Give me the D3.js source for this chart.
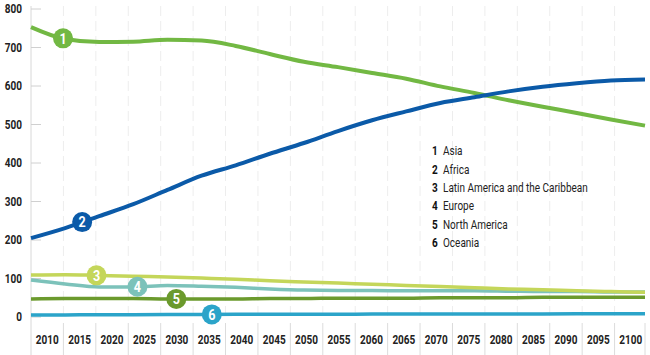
<!DOCTYPE html>
<html><head><meta charset="utf-8">
<script src="https://cdn.jsdelivr.net/npm/d3@7/dist/d3.min.js"></script>
<style>
body{margin:0;background:#fff}
svg{display:block}
text{font-family:"Roboto","Liberation Sans",sans-serif}
</style>
</head><body><svg id="c" width="650" height="355"></svg>
<script>
const years = [2010,2015,2020,2025,2030,2035,2040,2045,2050,2055,2060,2065,2070,2075,2080,2085,2090,2095,2100];
const yearLabels = ["2010","2015","2020","2025","2030","2035","2040","2045","2050","2055","2060","2065","2070","2075","2080","2085","2090","2095","2100"];
const yTicks = [0,100,200,300,400,500,600,700,800];
const seriesNames = ["Asia","Africa","Latin America and the Caribbean","Europe","North America","Oceania"];
const seriesColors = ["#72b843","#0b5aa8","#c4d65a","#7cc2ba","#6b9a2d","#2ba4c9"];
const asia     = [753,722,714,715,720,718,704,683,663,649,634,619,599,582,563,546,530,513,497];
const africa   = [205,231,262,293,330,367,394,424,452,483,511,534,556,571,586,598,607,614,617];
const latam    = [109,110,108,106,104,101,98,94,91,88,85,82,79,76,73,71,68,66,64];
const europe   = [96,86,78,78,82,80,77,73,70,69,69,68,68,68,67,66,66,65,65];
const northAm  = [47,48,48,48,47,47,47,48,48,49,49,49,50,50,50,51,51,51,51];
const oceania  = [5,5.5,6,6,6.5,6.5,7,7,7,7,7.5,7.5,7.5,8,8,8,8.5,8.5,8.5];
const labelYears = [2014.7,2017.5,2019.6,2025.6,2031.3,2036.5];
const series = [asia,africa,latam,europe,northAm,oceania];

(function(){
const svg = d3.select("#c");
const mL = 31, mR = 645, mT = 9, mB = 317;
const SX = 0.8;
const x = d3.scaleLinear().domain([2010,2100]).range([mL,mR]);
const xb = d3.scaleBand().domain(yearLabels).range([31,647]).padding(0);
const y = d3.scaleLinear().domain([0,800]).range([mB,mT]);

function txt(g, tx, ty, s, o){
  return g.append("text").attr("transform",`translate(${tx},${ty}) scale(${o.sx||SX},1)`)
    .attr("dy","0.35em").attr("text-anchor",o.anchor||"start")
    .attr("font-size",o.size||12).attr("font-weight",o.weight||"normal")
    .attr("fill",o.fill||"#222").text(s);
}

const bounds = yearLabels.slice(1).map(l => xb(l));
svg.append("g").selectAll("line").data(bounds).join("line")
  .attr("x1",d=>d).attr("x2",d=>d).attr("y1",6).attr("y2",mB+2)
  .attr("stroke","#ededed").attr("stroke-width",1).attr("stroke-dasharray","10,5");
svg.append("g").selectAll("line").data(bounds.concat([xb(yearLabels[18])+xb.bandwidth()-2])).join("line")
  .attr("x1",d=>d).attr("x2",d=>d).attr("y1",323).attr("y2",355)
  .attr("stroke","#dcdcdc").attr("stroke-width",1);

svg.append("line").attr("x1",mL).attr("x2",mL).attr("y1",6).attr("y2",355)
  .attr("stroke","#d8d8d8").attr("stroke-width",1);
const yg = svg.append("g");
yg.selectAll("line").data(yTicks).join("line")
  .attr("x1",mL).attr("x2",41).attr("y1",d=>y(d)).attr("y2",d=>y(d))
  .attr("stroke","#d0d0d0").attr("stroke-width",1);
yTicks.forEach(t=>txt(yg,22,y(t),String(t),{anchor:"end",weight:"bold",size:12.5}));

const xg = svg.append("g");
yearLabels.forEach(l=>txt(xg, xb(l)+xb.bandwidth()/2, 340, l, {anchor:"middle",weight:"bold",size:12.5}));

const line = d3.line().x((d,i)=>x(years[i])).y(d=>y(d)).curve(d3.curveMonotoneX);
const order = [5,4,3,2,0,1];
order.forEach(k=>{
  svg.append("path").datum(series[k]).attr("d",line).attr("fill","none")
    .attr("stroke",seriesColors[k]).attr("stroke-width",k<2?4:3.5).attr("stroke-linecap","butt");
});

function interp(arr, yr){
  const i = Math.min(years.length-2, Math.floor((yr-2010)/5));
  const t = (yr-years[i])/5;
  return arr[i]*(1-t)+arr[i+1]*t;
}
series.forEach((arr,k)=>{
  const cx = x(labelYears[k]), cy = y(interp(arr,labelYears[k]));
  const g = svg.append("g");
  g.append("circle").attr("cx",cx).attr("cy",cy).attr("r",10).attr("fill",seriesColors[k]);
  txt(g, cx, cy+0.3, String(k+1), {anchor:"middle",weight:"bold",size:14,fill:"#fff",sx:0.9});
});

const lg = svg.append("g");
seriesNames.forEach((n,k)=>{
  const yy = 151 + k*18.3;
  txt(lg, 432, yy, String(k+1), {weight:"bold",size:12.5,fill:"#111"});
  txt(lg, 443, yy, n, {size:12.5,fill:"#222"});
});
})();
</script></body></html>
